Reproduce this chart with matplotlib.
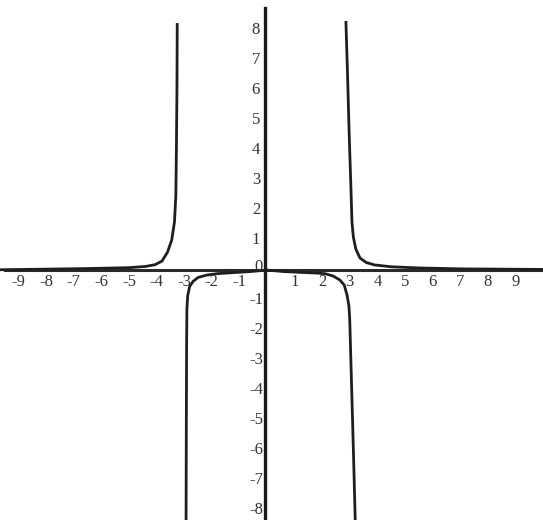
import matplotlib.pyplot as plt

# points, one list per branch
upper_left_x = [-9.7, -8.0, -6.5, -5.0, -4.4, -4.05, -3.8, -3.6, -3.45, -3.35, -3.3, -3.28, -3.26, -3.25]
upper_left_y = [0.01, 0.03, 0.05, 0.08, 0.12, 0.18, 0.3, 0.6, 1.0, 1.6, 2.5, 4.0, 6.0, 8.23]

upper_right_x = [2.86, 2.92, 2.98, 3.04, 3.08, 3.13, 3.22, 3.37, 3.6, 3.9, 4.5, 5.5, 7.0, 10.0]
upper_right_y = [8.3, 6.5, 4.5, 2.8, 1.6, 1.1, 0.7, 0.4, 0.25, 0.17, 0.11, 0.07, 0.04, 0.02]

lower_left_x = [0.0, -0.6, -1.3, -1.8, -2.2, -2.5, -2.68, -2.8, -2.87, -2.9, -2.91, -2.92, -2.93]
lower_left_y = [0.0, -0.05, -0.09, -0.12, -0.17, -0.25, -0.38, -0.55, -0.85, -1.3, -2.5, -5.0, -8.4]

lower_right_x = [0.0, 0.6, 1.3, 1.8, 2.1, 2.4, 2.64, 2.8, 2.9, 2.97, 3.0, 3.04, 3.08, 3.14, 3.2]
lower_right_y = [0.0, -0.05, -0.08, -0.1, -0.12, -0.2, -0.33, -0.5, -0.83, -1.2, -1.67, -3.0, -4.3, -6.3, -8.4]

x_ticks = [-9, -8, -7, -6, -5, -4, -3, -2, -1, 1, 2, 3, 4, 5, 6, 7, 8, 9]
y_ticks = [8, 7, 6, 5, 4, 3, 2, 1, -1, -2, -3, -4, -5, -6, -7, -8]

fig = plt.figure(figsize=(5.43, 5.20), dpi=100)
ax = fig.add_axes([0, 0, 1, 1])
ax.set_xlim(-9.67, 10.0)
ax.set_ylim(-8.33, 9.0)
ax.axis("off")

# axes lines
ax.plot([-9.5, 10.0], [0, 0], color="#2a2a2a", lw=2.2)
ax.plot([-0.07, -0.07], [-8.4, 8.75], color="#1a1a1a", lw=2.4)

line_kw = dict(color="#1e1e1e", lw=2.0, solid_capstyle="butt")
ax.plot(upper_left_x, upper_left_y, **line_kw)
ax.plot(upper_right_x, upper_right_y, **line_kw)
ax.plot(lower_left_x, lower_left_y, **line_kw)
ax.plot(lower_right_x, lower_right_y, **line_kw)

font = dict(family="Liberation Serif", fontsize=12, color="#333333")
for t in x_ticks:
    ax.text(t, -0.4, str(t), ha="center", va="center", **font)
for t in y_ticks:
    ax.text(-0.4, t, str(t), ha="center", va="center", **font)
ax.text(-0.3, 0.1, "0", ha="center", va="center", **font)

plt.savefig("out.png", dpi=100)
